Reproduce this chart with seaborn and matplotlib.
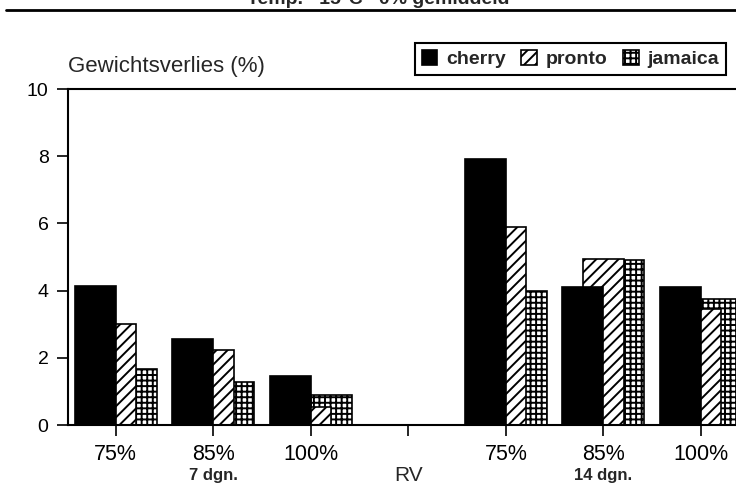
import pandas as pd
import matplotlib.pyplot as plt
import seaborn as sns
from matplotlib.lines import Line2D

sns.set_theme(style="white")
plt.rcParams['font.family'] = ['Liberation Sans', 'DejaVu Sans']
plt.rcParams['hatch.linewidth'] = 1.4
plt.rcParams['hatch.color'] = 'black'

# data
rv_labels = ['75%', '85%', '100%', '', '75%', '85%', '100%']
groups = ['7 dgn.', 'RV', '14 dgn.']
cultivars = ['cherry', 'pronto', 'jamaica']
cherry = [4.15, 2.55, 1.45, None, 7.92, 4.10, 4.12]
pronto = [3.02, 2.22, 0.55, None, 5.88, 4.95, 3.45]
jamaica = [1.67, 1.27, 0.90, None, 3.98, 4.92, 3.75]

values = {'cherry': cherry, 'pronto': pronto, 'jamaica': jamaica}
rows = []
for c in cultivars:
    for i, v in enumerate(values[c]):
        if v is not None:
            rows.append({'pos': i, 'cultivar': c, 'verlies': v})
df = pd.DataFrame(rows)

styles = {
    'cherry': dict(color='black', hatch=None, offset=-0.21),
    'pronto': dict(color='white', hatch='///', offset=0.0),
    'jamaica': dict(color='white', hatch='+++', offset=0.21),
}

fig = plt.figure(figsize=(7.36, 4.93), dpi=100)
ax = fig.add_axes([68 / 736, 68 / 493, 1 - 68 / 736, 336 / 493])

# back to front: jamaica, pronto, cherry overlap each other
for c in ['jamaica', 'pronto', 'cherry']:
    st = styles[c]
    sub = df[df['cultivar'] == c].copy()
    sub['x'] = sub['pos'] + st['offset']
    sns.barplot(data=sub, x='x', y='verlies', native_scale=True, width=0.42,
                color=st['color'], saturation=1, errorbar=None,
                edgecolor='black', linewidth=1.2, hatch=st['hatch'],
                label=c, ax=ax)

handles, labels = ax.get_legend_handles_labels()
if ax.get_legend() is not None:
    ax.get_legend().remove()

ax.set_xlim(-0.49, 6.36)
ax.set_ylim(0, 10)
ax.set_yticks([0, 2, 4, 6, 8, 10])
ax.set_xticks(range(7))
ax.set_xticklabels(rv_labels)
ax.set_xlabel('')
ax.set_ylabel('')
ax.tick_params(axis='both', direction='out', length=8, width=1.2,
               colors='black', bottom=True, left=True)
ax.tick_params(axis='y', labelsize=14, pad=6)
ax.tick_params(axis='x', labelsize=15.5, pad=6)
for s in ['left', 'bottom', 'top']:
    ax.spines[s].set_color('black')
    ax.spines[s].set_linewidth(1.5)
ax.spines['right'].set_visible(False)

for xpos, g in zip([1, 3, 5], groups):
    ax.text(xpos, -0.15, g, transform=ax.get_xaxis_transform(), ha='center',
            va='center', fontsize=15 if g == 'RV' else 12,
            fontweight='normal' if g == 'RV' else 'bold')

ax.text(0.0, 1.05, 'Gewichtsverlies (%)', transform=ax.transAxes,
        ha='left', va='baseline', fontsize=16)

order = [labels.index(c) for c in cultivars]
leg = fig.legend([handles[i] for i in order], cultivars, ncol=3,
                 loc='upper left', bbox_to_anchor=(415 / 736, 1 - 43 / 493),
                 frameon=True, fancybox=False, edgecolor='black', framealpha=1,
                 prop={'weight': 'bold', 'size': 14}, handlelength=0.8,
                 handleheight=0.8, handletextpad=0.45, columnspacing=0.8,
                 borderpad=0.35, borderaxespad=0)
leg.get_frame().set_linewidth(1.5)

# clipped header line from the scanned page
fig.text(378 / 736, 1 - 4 / 493, 'Temp.   15°C   0% gemiddeld', ha='center',
         va='baseline', fontsize=14, fontweight='bold')
fig.add_artist(Line2D([6 / 736, 1], [1 - 10 / 493] * 2, color='black', lw=2))

fig.savefig('out.png', dpi=100)
